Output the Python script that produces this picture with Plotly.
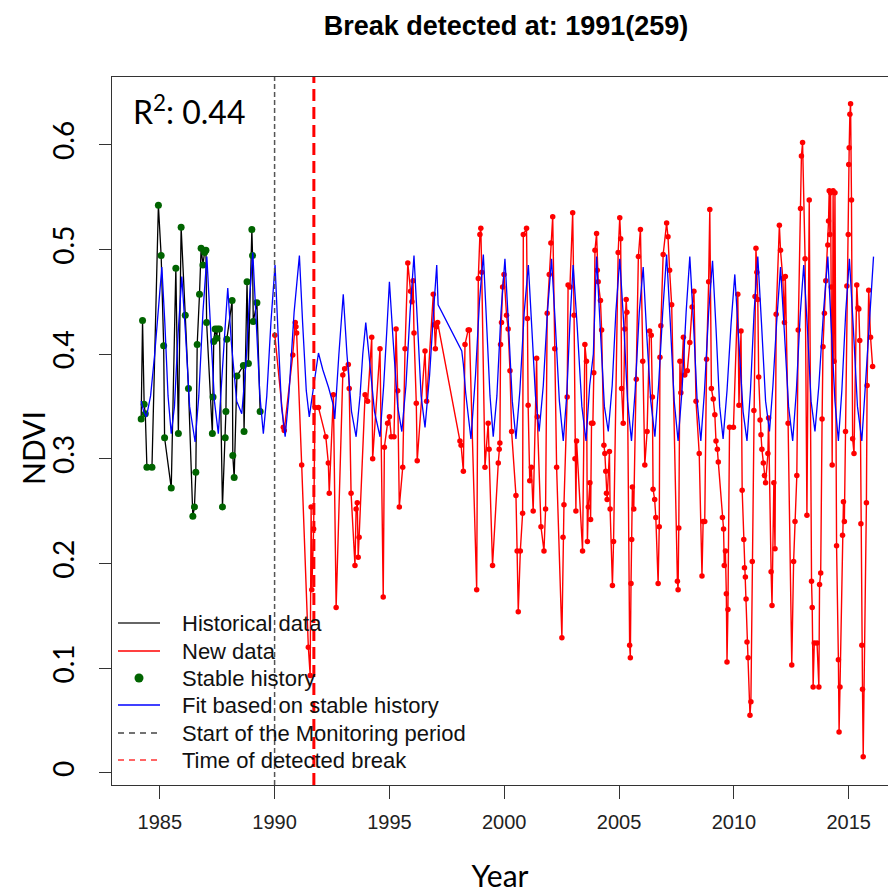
import plotly.graph_objects as go

# ---------------- data ----------------
hist_year = [1984.19, 1984.25, 1984.32, 1984.37, 1984.44, 1984.66, 1984.94, 1985.06, 1985.17, 1985.21,
             1985.50, 1985.70, 1985.81, 1985.93, 1986.11, 1986.25, 1986.44, 1986.51, 1986.57, 1986.63,
             1986.73, 1986.80, 1986.88, 1986.95, 1987.01, 1987.04, 1987.29, 1987.32, 1987.35, 1987.41,
             1987.48, 1987.51, 1987.60, 1987.73, 1987.85, 1987.88, 1987.92, 1988.15, 1988.18, 1988.24,
             1988.36, 1988.64, 1988.67, 1988.80, 1988.86, 1989.01, 1989.04, 1989.07, 1989.23, 1989.37]
hist_ndvi = [0.338, 0.432, 0.352, 0.343, 0.292, 0.292, 0.542, 0.494, 0.408, 0.320,
             0.272, 0.482, 0.324, 0.521, 0.437, 0.367, 0.245, 0.254, 0.287, 0.409,
             0.457, 0.501, 0.485, 0.497, 0.499, 0.430, 0.324, 0.359, 0.412, 0.424,
             0.415, 0.424, 0.424, 0.254, 0.320, 0.345, 0.414, 0.451, 0.303, 0.282,
             0.379, 0.389, 0.326, 0.469, 0.391, 0.519, 0.494, 0.431, 0.449, 0.345]

new_year = [
    1990.01, 1990.38, 1990.42, 1990.79, 1990.90, 1990.93, 1990.96,
    1991.18, 1991.47, 1991.55, 1991.59, 1991.62, 1991.70, 1991.76, 1991.91,
    1992.23, 1992.34, 1992.38, 1992.56, 1992.68, 1992.97,
    1993.05, 1993.21, 1993.25, 1993.33, 1993.50, 1993.55, 1993.60, 1993.64, 1993.68, 1993.94,
    1994.05, 1994.23, 1994.27, 1994.59, 1994.73, 1994.78, 1994.92,
    1995.00, 1995.08, 1995.20, 1995.29, 1995.36, 1995.43, 1995.58, 1995.68, 1995.80, 1995.92, 1995.98,
    1996.03, 1996.07, 1996.17, 1996.21, 1996.55, 1996.62, 1996.91, 1996.95,
    1997.00, 1997.05, 1997.10,
    1998.07, 1998.12, 1998.22, 1998.29, 1998.43, 1998.48, 1998.80, 1998.87, 1998.94, 1998.98,
    1999.02, 1999.16, 1999.30, 1999.34, 1999.49, 1999.74, 1999.78, 1999.81, 1999.84, 1999.88, 1999.93, 1999.99,
    2000.10, 2000.17, 2000.25, 2000.32, 2000.51, 2000.56, 2000.61, 2000.70, 2000.80, 2000.83, 2000.97,
    2001.01, 2001.04, 2001.11, 2001.18, 2001.26, 2001.41, 2001.44, 2001.60, 2001.73, 2001.80, 2001.87, 2001.96,
    2002.03, 2002.11, 2002.20, 2002.28, 2002.51, 2002.56, 2002.60, 2002.74, 2002.78, 2002.86, 2002.98,
    2003.04, 2003.08, 2003.12, 2003.15, 2003.41, 2003.51, 2003.58, 2003.62, 2003.66, 2003.73, 2003.76, 2003.80, 2003.86, 2003.90, 2003.95,
    2004.02, 2004.05, 2004.09, 2004.19, 2004.24, 2004.34, 2004.38, 2004.42, 2004.45, 2004.48, 2004.58, 2004.61, 2004.71, 2004.76, 2004.96,
    2005.03, 2005.07, 2005.11, 2005.18, 2005.25, 2005.31, 2005.34, 2005.46, 2005.49, 2005.52, 2005.55, 2005.58, 2005.64, 2005.75, 2005.84, 2005.93,
    2006.03, 2006.12, 2006.22, 2006.33, 2006.40, 2006.45, 2006.48, 2006.55, 2006.60, 2006.70, 2006.75, 2006.78, 2006.82, 2006.92,
    2007.07, 2007.13, 2007.20, 2007.29, 2007.54, 2007.57, 2007.60, 2007.65, 2007.69, 2007.80, 2007.86, 2007.97,
    2008.08, 2008.18, 2008.26, 2008.35, 2008.49, 2008.61, 2008.66, 2008.73, 2008.81, 2008.90, 2008.95,
    2009.02, 2009.10, 2009.17, 2009.22, 2009.28, 2009.32, 2009.50, 2009.55, 2009.58, 2009.63, 2009.67, 2009.70, 2009.74, 2009.81, 2009.98,
    2010.17, 2010.22, 2010.31, 2010.36, 2010.43, 2010.46, 2010.50, 2010.53, 2010.57, 2010.62, 2010.70, 2010.74, 2010.80, 2010.87, 2010.92, 2010.96,
    2011.00, 2011.04, 2011.08, 2011.14, 2011.18, 2011.22, 2011.28, 2011.33, 2011.38, 2011.48, 2011.51, 2011.62, 2011.66, 2011.74, 2011.79, 2011.84, 2011.98,
    2012.03, 2012.13, 2012.20, 2012.24, 2012.36, 2012.52, 2012.60, 2012.66, 2012.74, 2012.80, 2012.90, 2012.94, 2012.99,
    2013.10, 2013.18, 2013.28, 2013.38, 2013.41, 2013.45, 2013.50, 2013.62, 2013.70, 2013.73, 2013.78, 2013.84, 2013.88, 2013.94,
    2014.00, 2014.09, 2014.12, 2014.15, 2014.18, 2014.21, 2014.24, 2014.28, 2014.32, 2014.36, 2014.40, 2014.47, 2014.55, 2014.58, 2014.62, 2014.73, 2014.77, 2014.81, 2014.86, 2014.92, 2014.98,
    2015.00, 2015.02, 2015.05, 2015.08, 2015.12, 2015.17, 2015.23, 2015.35, 2015.40, 2015.44, 2015.48, 2015.53, 2015.57, 2015.60, 2015.63, 2015.77, 2015.80, 2015.87, 2015.95,
    2016.04]
new_ndvi = [
    0.418, 0.330, 0.327, 0.399, 0.430, 0.426, 0.420,
    0.294, 0.120, 0.093, 0.254, 0.175, 0.233, 0.349, 0.349,
    0.321, 0.296, 0.267, 0.361, 0.158, 0.380,
    0.386, 0.390, 0.367, 0.267, 0.198, 0.252, 0.258, 0.206, 0.225, 0.361,
    0.355, 0.416, 0.300, 0.405, 0.168, 0.311, 0.334,
    0.340, 0.321, 0.321, 0.424, 0.365, 0.254, 0.292, 0.405, 0.487, 0.460, 0.450,
    0.470, 0.420, 0.353, 0.298, 0.403, 0.355, 0.457, 0.428,
    0.405, 0.426, 0.430,
    0.317, 0.313, 0.288, 0.409, 0.423, 0.423, 0.175, 0.472, 0.514, 0.520,
    0.478, 0.292, 0.334, 0.309, 0.198, 0.296, 0.309, 0.315, 0.409, 0.430, 0.464, 0.476,
    0.437, 0.424, 0.384, 0.326, 0.265, 0.212, 0.154, 0.212, 0.248, 0.514, 0.520,
    0.434, 0.351, 0.279, 0.292, 0.250, 0.396, 0.340, 0.235, 0.212, 0.252, 0.439, 0.476,
    0.506, 0.531, 0.405, 0.292, 0.129, 0.225, 0.256, 0.359, 0.466, 0.464, 0.535,
    0.437, 0.300, 0.250, 0.317, 0.212, 0.409, 0.393, 0.221, 0.254, 0.277, 0.242, 0.334, 0.334, 0.382, 0.499,
    0.515, 0.480, 0.469, 0.451, 0.423, 0.313, 0.305, 0.288, 0.267, 0.261, 0.307, 0.252, 0.179, 0.221, 0.497,
    0.530, 0.510, 0.367, 0.334, 0.424, 0.452, 0.440, 0.122, 0.110, 0.181, 0.223, 0.273, 0.252, 0.376, 0.493, 0.519,
    0.393, 0.294, 0.326, 0.422, 0.418, 0.359, 0.271, 0.261, 0.244, 0.181, 0.235, 0.397, 0.427, 0.495,
    0.525, 0.512, 0.480, 0.447, 0.183, 0.175, 0.234, 0.393, 0.363, 0.416, 0.380, 0.384,
    0.411, 0.445, 0.460, 0.355, 0.305, 0.188, 0.240, 0.240, 0.395, 0.469, 0.538,
    0.367, 0.357, 0.342, 0.317, 0.309, 0.297, 0.244, 0.233, 0.198, 0.212, 0.171, 0.106, 0.156, 0.330, 0.330,
    0.457, 0.351, 0.422, 0.270, 0.223, 0.196, 0.187, 0.166, 0.125, 0.110, 0.055, 0.068, 0.202, 0.346, 0.455, 0.501,
    0.478, 0.452, 0.378, 0.337, 0.323, 0.309, 0.296, 0.284, 0.277, 0.305, 0.339, 0.192, 0.160, 0.277, 0.214, 0.438, 0.523,
    0.499, 0.472, 0.430, 0.474, 0.334, 0.103, 0.202, 0.240, 0.284, 0.423, 0.539, 0.589, 0.602,
    0.491, 0.246, 0.547, 0.183, 0.158, 0.082, 0.124, 0.124, 0.082, 0.180, 0.191, 0.338, 0.407, 0.439,
    0.470, 0.504, 0.527, 0.556, 0.514, 0.554, 0.464, 0.294, 0.556, 0.393, 0.554, 0.217, 0.108, 0.039, 0.082, 0.227, 0.259, 0.240, 0.326, 0.465, 0.514,
    0.581, 0.597, 0.629, 0.639, 0.547, 0.319, 0.305, 0.466, 0.444, 0.443, 0.413, 0.238, 0.122, 0.080, 0.0155, 0.258, 0.370, 0.461, 0.416,
    0.388]

fit_year = [
    1984.19, 1984.30, 1984.42, 1984.60, 1984.78, 1984.95,
    1985.09, 1985.22, 1985.36, 1985.50, 1985.64, 1985.80,
    1985.96, 1986.12, 1986.30, 1986.54, 1986.70, 1986.88,
    1987.05, 1987.20, 1987.38, 1987.55, 1987.70, 1987.83,
    1987.96, 1988.12, 1988.35, 1988.57, 1988.75, 1988.90,
    1989.05, 1989.20, 1989.36, 1989.51, 1989.66, 1989.84,
    1990.02, 1990.15, 1990.30, 1990.46, 1990.62, 1990.85,
    1991.08, 1991.22, 1991.38, 1991.51, 1991.70, 1991.91,
    1992.10, 1992.35, 1992.56, 1992.62, 1992.80,
    1992.99, 1993.15, 1993.35, 1993.55, 1993.72, 1993.84,
    1993.97, 1994.15, 1994.35, 1994.59, 1994.75, 1994.88,
    1995.00, 1995.17, 1995.36, 1995.54, 1995.72, 1995.90,
    1996.07, 1996.22, 1996.38, 1996.55, 1996.75, 1996.92,
    1997.06, 1997.12,
    1998.15, 1998.22, 1998.32, 1998.45, 1998.55, 1998.75, 1998.92,
    1999.09, 1999.24, 1999.38, 1999.52, 1999.68, 1999.86,
    2000.03, 2000.18, 2000.35, 2000.51, 2000.68, 2000.87,
    2001.05, 2001.20, 2001.36, 2001.52, 2001.70, 2001.88,
    2002.06, 2002.22, 2002.40, 2002.57, 2002.72, 2002.86,
    2003.00, 2003.18, 2003.38, 2003.56, 2003.72, 2003.88,
    2004.02, 2004.18, 2004.36, 2004.53, 2004.70, 2004.86,
    2005.03, 2005.20, 2005.37, 2005.54, 2005.70, 2005.88,
    2006.05, 2006.20, 2006.38, 2006.56, 2006.72, 2006.90,
    2007.07, 2007.23, 2007.40, 2007.57, 2007.74, 2007.92,
    2008.08, 2008.24, 2008.40, 2008.56, 2008.72, 2008.90,
    2009.07, 2009.22, 2009.38, 2009.53, 2009.70, 2009.88,
    2010.04, 2010.22, 2010.40, 2010.57, 2010.72, 2010.88,
    2011.04, 2011.20, 2011.38, 2011.55, 2011.70, 2011.86,
    2012.03, 2012.20, 2012.38, 2012.56, 2012.72, 2012.88,
    2013.04, 2013.20, 2013.36, 2013.53, 2013.70, 2013.90,
    2014.09, 2014.24, 2014.40, 2014.55, 2014.70, 2014.87,
    2015.03, 2015.20, 2015.38, 2015.57, 2015.72, 2015.90,
    2016.08]
fit_ndvi = [
    0.355, 0.345, 0.340, 0.360, 0.400, 0.450,
    0.483, 0.430, 0.360, 0.324, 0.350, 0.420,
    0.474, 0.420, 0.350, 0.316, 0.360, 0.440,
    0.493, 0.430, 0.355, 0.324, 0.370, 0.420,
    0.463, 0.410, 0.355, 0.343, 0.390, 0.450,
    0.497, 0.430, 0.360, 0.324, 0.360, 0.430,
    0.485, 0.420, 0.350, 0.321, 0.360, 0.440,
    0.494, 0.430, 0.365, 0.340, 0.370, 0.401,
    0.385, 0.368, 0.351, 0.338, 0.400,
    0.457, 0.400, 0.345, 0.321, 0.360, 0.400,
    0.430, 0.390, 0.345, 0.321, 0.370, 0.420,
    0.469, 0.410, 0.350, 0.326, 0.370, 0.440,
    0.494, 0.430, 0.360, 0.330, 0.380, 0.440,
    0.485, 0.447,
    0.403, 0.390, 0.363, 0.338, 0.319, 0.380, 0.450,
    0.495, 0.430, 0.360, 0.321, 0.360, 0.440,
    0.491, 0.430, 0.355, 0.319, 0.365, 0.440,
    0.485, 0.425, 0.360, 0.326, 0.370, 0.440,
    0.491, 0.430, 0.355, 0.317, 0.360, 0.430,
    0.485, 0.425, 0.350, 0.317, 0.370, 0.400,
    0.493, 0.425, 0.350, 0.326, 0.370, 0.440,
    0.491, 0.430, 0.355, 0.317, 0.365, 0.440,
    0.483, 0.420, 0.355, 0.321, 0.370, 0.440,
    0.495, 0.430, 0.355, 0.317, 0.365, 0.440,
    0.493, 0.430, 0.355, 0.317, 0.365, 0.440,
    0.489, 0.425, 0.350, 0.319, 0.365, 0.430,
    0.476, 0.410, 0.345, 0.317, 0.365, 0.440,
    0.493, 0.430, 0.355, 0.326, 0.370, 0.430,
    0.483, 0.420, 0.350, 0.317, 0.365, 0.435,
    0.485, 0.425, 0.355, 0.326, 0.370, 0.440,
    0.493, 0.425, 0.355, 0.317, 0.365, 0.440,
    0.491, 0.425, 0.350, 0.317, 0.365, 0.430,
    0.493]

monitor_start = 1990.0
break_time = 1991.71
r_squared = 0.44
break_label = "1991(259)"

x_ticks = [1985, 1990, 1995, 2000, 2005, 2010, 2015]
y_ticks = [0, 0.1, 0.2, 0.3, 0.4, 0.5, 0.6]
y_ticklabels = ["0", "0.1", "0.2", "0.3", "0.4", "0.5", "0.6"]

X_RANGE = [1982.92, 2016.71]
Y_RANGE = [-0.0115, 0.6645]

legend_labels = ["Historical data", "New data", "Stable history",
                 "Fit based on stable history", "Start of the Monitoring period",
                 "Time of detected break"]

# ---------------- figure ----------------
W, H = 888, 893
ML, MR, MT, MB = 112, 0, 77, 108
PW, PH = W - ML - MR, H - MT - MB

fig = go.Figure()
fig.add_trace(go.Scatter(x=hist_year, y=hist_ndvi, mode="lines",
                         line=dict(color="black", width=1.3), showlegend=False, hoverinfo="skip"))
fig.add_trace(go.Scatter(x=hist_year, y=hist_ndvi, mode="markers",
                         marker=dict(color="#006400", size=7), showlegend=False))
fig.add_trace(go.Scatter(x=new_year, y=new_ndvi, mode="lines+markers",
                         line=dict(color="#ff0000", width=1.4),
                         marker=dict(color="#ff0000", size=5.5), showlegend=False))
fig.add_trace(go.Scatter(x=fit_year, y=fit_ndvi, mode="lines",
                         line=dict(color="#0000ff", width=1.3), showlegend=False))
fig.add_trace(go.Scatter(x=[monitor_start, monitor_start], y=Y_RANGE, mode="lines",
                         line=dict(color="#555555", width=1.5, dash="5px,3px"), showlegend=False))
fig.add_trace(go.Scatter(x=[break_time, break_time], y=Y_RANGE, mode="lines",
                         line=dict(color="#ff0000", width=3, dash="12px,6px"), showlegend=False))

# ---- manual legend (R style, no box) ----
def px2paper_x(px):
    return (px - ML) / PW

def px2paper_y(py):
    return (H - MB - py) / PH

rows = [623, 651, 678, 705, 733, 760]
sym_styles = [
    dict(kind="line", color="#333333", dash="solid", width=1.5),
    dict(kind="line", color="#ff0000", dash="solid", width=1.5),
    dict(kind="dot", color="#006400"),
    dict(kind="line", color="#0000ff", dash="solid", width=1.5),
    dict(kind="line", color="#444444", dash="6px,5px", width=1.5),
    dict(kind="line", color="#ff3333", dash="6px,5px", width=1.5),
]
shapes = []
annotations = []
for label, py, st in zip(legend_labels, rows, sym_styles):
    yy = px2paper_y(py)
    if st["kind"] == "line":
        shapes.append(dict(type="line", xref="paper", yref="paper",
                           x0=px2paper_x(118), x1=px2paper_x(160), y0=yy, y1=yy,
                           line=dict(color=st["color"], width=st["width"], dash=st["dash"])))
    else:
        r = 4.5
        shapes.append(dict(type="circle", xref="paper", yref="paper",
                           x0=px2paper_x(139 - r), x1=px2paper_x(139 + r),
                           y0=px2paper_y(py + r), y1=px2paper_y(py - r),
                           fillcolor=st["color"], line=dict(color=st["color"], width=0)))
    annotations.append(dict(xref="paper", yref="paper", x=px2paper_x(180), y=yy,
                            xanchor="left", yanchor="middle", showarrow=False,
                            text=label, font=dict(family="Liberation Sans, Arial", size=22, color="#111111")))

annotations.append(dict(xref="paper", yref="paper", x=px2paper_x(131), y=px2paper_y(110),
                        xanchor="left", yanchor="middle", showarrow=False,
                        text="R<sup>2</sup>: %.2f" % r_squared,
                        font=dict(family="Lato, Open Sans, sans-serif", size=32, color="black")))

# y-axis title (placed like the reference, slightly below the axis centre)
annotations.append(dict(xref="paper", yref="paper", x=px2paper_x(33), y=px2paper_y(448),
                        xanchor="center", yanchor="middle", showarrow=False, textangle=-90,
                        text="NDVI",
                        font=dict(family="Lato, Open Sans, sans-serif", size=30, color="black")))

fig.update_layout(
    width=W, height=H,
    margin=dict(l=ML, r=MR, t=MT, b=MB, pad=0),
    paper_bgcolor="white", plot_bgcolor="white",
    showlegend=False,
    title=dict(text="<b>Break detected at: %s</b>" % break_label,
               font=dict(family="Liberation Sans, Arial", size=27, color="black"),
               x=506 / W, xref="container", xanchor="center",
               y=1 - 26 / H, yref="container", yanchor="middle"),
    shapes=shapes,
    annotations=annotations,
    xaxis=dict(range=X_RANGE, tickmode="array", tickvals=x_ticks,
               ticks="outside", ticklen=13, tickwidth=1, tickcolor="#333333",
               showline=True, linecolor="#333333", linewidth=1, mirror=True,
               showgrid=False, zeroline=False,
               tickfont=dict(family="Liberation Sans, Arial", size=20, color="#222222"),
               ticklabelstandoff=6,
               title=dict(text="Year", standoff=34,
                          font=dict(family="Lato, Open Sans, sans-serif", size=30, color="black"))),
    yaxis=dict(range=Y_RANGE, tickmode="array", tickvals=y_ticks, ticktext=y_ticklabels,
               ticks="outside", ticklen=12, tickwidth=1, tickcolor="#333333",
               showline=True, linecolor="#333333", linewidth=1, mirror=False,
               showgrid=False, zeroline=False, tickangle=-90,
               tickfont=dict(family="Lato, Open Sans, sans-serif", size=28, color="black"),
               ticklabelstandoff=14),
)

fig.write_html("out.html")
